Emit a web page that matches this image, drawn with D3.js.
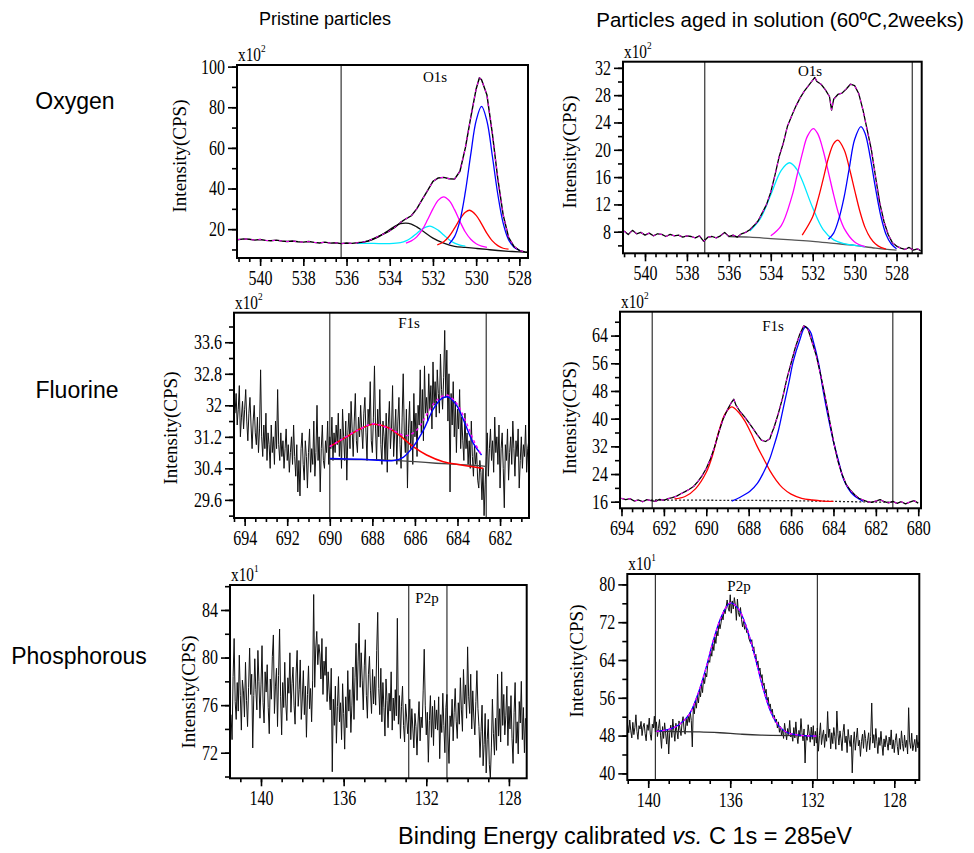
<!DOCTYPE html>
<html>
<head>
<meta charset="utf-8">
<script src="https://cdn.jsdelivr.net/npm/d3@7"></script>
<style>
  body { margin: 0; background: #fff; }
  .tick text { font-family: "Liberation Serif", serif; font-size: 20px; fill: #000; }
  .tick line { stroke: #000; stroke-width: 1.6; }
  .sans { font-family: "Liberation Sans", Arial, sans-serif; fill: #000; }
  .serif { font-family: "Liberation Serif", serif; fill: #000; }
</style>
</head>
<body>
<svg id="chart" width="974" height="853"></svg>
<script>
// ---- O1s, pristine ----
const o1sXTicks = [540, 538, 536, 534, 532, 530, 528];
const o1sPristineYTicks = [20, 40, 60, 80, 100];
const o1sPristineMarkers = [536.25];
const o1sPristineMeasured = [[541.05,14.8],[540.75,15.2],[540.5,15.0],[540.25,14.6],[540,14.9],[539.75,14.5],[539.5,14.3],[539.25,14.6],[539,14.2],[538.75,13.9],[538.5,14.2],[538.25,13.8],[538,13.6],[537.75,13.9],[537.5,13.5],[537.25,13.2],[537,13.6],[536.75,13.1],[536.5,13.3],[536.25,12.9],[536,13.2],[535.75,13.0],[535.5,13.3],[535.25,13.6],[535,14.2],[534.75,15.3],[534.5,16.6],[534.25,17.8],[534,19.2],[533.75,21.0],[533.5,23.3],[533.25,25.1],[533,26.6],[532.75,30],[532.5,34.5],[532.25,39],[532,43.5],[531.75,45.2],[531.5,45.5],[531.25,44.8],[531,44.6],[530.75,48.5],[530.5,60],[530.25,75],[530,89],[529.85,94.5],[529.75,93.5],[529.5,86],[529.25,67],[529,45],[528.75,27],[528.5,16],[528.25,11.5],[528,9.5],[527.75,8.8],[527.6,8.5]];
const o1sPristineBlue = [[531.25,12.7],[531,16.3],[530.75,24.2],[530.5,38.3],[530.25,56.8],[530,73.4],[529.75,80.4],[529.5,73.2],[529.25,56],[529,37.3],[528.75,23],[528.5,14.8],[528.25,11.1],[528,9.7]];
const o1sPristineRed = [[531.8,12.3],[531.5,13.8],[531.25,16.5],[531,20.5],[530.75,24.9],[530.5,28.3],[530.3,29.3],[530,26.8],[529.75,22.6],[529.5,17.9],[529.25,14.2],[529,11.9],[528.75,10.6],[528.5,10.2]];
const o1sPristineMagenta = [[533.25,13.1],[533,14.2],[532.75,16.2],[532.5,19.6],[532.25,24.6],[532,30],[531.75,34.3],[531.5,35.9],[531.25,34.1],[531,29.6],[530.75,23.8],[530.5,18.6],[530.25,15],[530,12.8],[529.75,11.6],[529.5,11]];
const o1sPristineCyan = [[535.5,13.0],[535,13.0],[534.5,12.9],[534,12.9],[533.5,13.4],[533.25,14.2],[533,15.8],[532.75,17.9],[532.5,20.1],[532.15,21.5],[531.75,19.4],[531.5,17.1],[531.25,14.8],[531,13.1],[530.75,12.1],[530.5,11.6]];
const o1sPristineDark = [[535.5,13],[535,14.1],[534.5,16.3],[534,19.8],[533.75,21.5],[533.5,22.7],[533.25,23],[533,22.5],[532.75,21.1],[532.5,19.3],[532,15.6],[531.5,13.1],[531,11.5],[530.5,11],[530,10.5],[529.5,10],[529,9.5],[528.5,9.1],[528,8.8],[527.6,8.6]];

// ---- O1s, aged ----
const o1sAgedYTicks = [8, 12, 16, 20, 24, 28, 32];
const o1sAgedMarkers = [537.15, 527.25];
const o1sAgedMeasured = [[541,8.1],[540.8,7.6],[540.6,8.2],[540.4,7.7],[540.2,7.9],[540,7.5],[539.8,7.8],[539.6,7.4],[539.4,7.7],[539.2,7.6],[539,7.3],[538.8,7.6],[538.6,7.4],[538.4,7.5],[538.2,7.2],[538,7.4],[537.8,7.3],[537.6,7.1],[537.4,7.4],[537.2,6.6],[537,7.2],[536.8,7.3],[536.6,7.1],[536.4,7.4],[536.2,7.9],[536,7.3],[535.8,7.5],[535.6,7.2],[535.4,7.7],[535.2,7.9],[535,8.3],[534.8,8.9],[534.6,9.6],[534.4,10.8],[534.2,12.0],[534,13.8],[533.8,16.3],[533.6,19.0],[533.4,21.0],[533.2,23.5],[533,25.0],[532.8,26.4],[532.6,27.6],[532.4,28.6],[532.2,29.4],[532,30.2],[531.9,30.6],[531.8,30.0],[531.6,29.6],[531.4,28.8],[531.2,27.8],[531.1,25.8],[531,27.4],[530.8,28.1],[530.6,28.3],[530.4,28.9],[530.2,29.6],[530,29.4],[529.8,28.2],[529.6,25.8],[529.4,22.9],[529.2,20.0],[529,16.0],[528.8,12.2],[528.6,9.5],[528.4,7.6],[528.2,6.4],[528,5.9],[527.8,5.6],[527.6,5.4],[527.4,5.7],[527.2,5.3],[527,5.5],[526.85,5.2]];
const o1sAgedCyan = [[535,8.1],[534.5,9.9],[534,13.4],[533.5,17.0],[533.1,18.1],[532.75,17.1],[532.5,15.5],[532,11.5],[531.5,8.3],[531,6.8],[530.5,6.25],[530,6.0],[529.5,5.8]];
const o1sAgedMagenta = [[534,7.4],[533.5,8.9],[533,13.1],[532.75,16.2],[532.5,19.4],[532.25,22],[531.97,23.1],[531.75,22.3],[531.5,19.9],[531.25,16.7],[531,13.4],[530.75,10.5],[530.5,8.5],[530,6.5],[529.5,5.8]];
const o1sAgedRed = [[532.5,7.5],[532,10.2],[531.75,12.7],[531.5,15.7],[531.25,18.8],[531,20.9],[530.8,21.4],[530.5,20],[530.25,17.3],[530,14.1],[529.75,11],[529.5,8.6],[529.25,7.1],[529,6.2],[528.75,5.7],[528.5,5.45]];
const o1sAgedBlue = [[531.25,6.9],[531,7.8],[530.75,9.9],[530.5,13.1],[530.25,17.4],[530,21.5],[529.7,23.4],[529.5,22.4],[529.25,18.8],[529,14.3],[528.75,10.3],[528.5,7.6],[528.25,6.2],[528,5.5]];
const o1sAgedBg = [[536,7.3],[535,7.2],[534,7.0],[533,6.8],[532,6.6],[531,6.3],[530,6.0],[529,5.6],[528,5.3]];

// ---- F1s, pristine (counts every 0.05 eV from 694.45 eV down) ----
const f1sPristineXTicks = [694, 692, 690, 688, 686, 684, 682];
const f1sPristineYTicks = [29.6, 30.4, 31.2, 32, 32.8, 33.6];
const f1sPristineMarkers = [690, 682.65];
const f1sPristineStart = 694.45, f1sPristineStep = 0.05;
const f1sPristineCounts = [
  31.8,32.3,31.5,31.9,32.5,31.2,31.7,32.1,31.4,31.9,32.4,31.6,31.1,31.8,32.2,31.5,30.9,31.6,32.0,31.3,
  31.0,31.7,30.8,31.4,32.9,31.2,30.7,31.5,30.9,31.8,30.6,31.3,31.0,30.4,31.5,30.8,31.2,30.5,31.6,30.9,
  32.4,31.0,30.6,31.3,30.7,31.1,30.4,30.9,31.4,30.6,31.0,30.3,30.8,31.2,30.5,31.5,30.7,30.2,31.0,29.8,
  30.6,29.7,30.9,31.3,30.5,30.1,31.1,30.7,29.9,30.8,31.4,30.3,30.9,30.5,31.6,30.2,30.8,32.0,30.6,31.2,
  29.8,30.9,31.5,30.6,30.4,31.1,30.8,31.6,30.5,31.2,30.9,31.7,30.6,31.3,30.8,31.5,31.0,31.8,30.7,31.4,
  30.4,31.9,31.2,30.6,31.6,30.1,31.3,31.8,30.9,32.1,31.4,30.7,31.6,32.3,31.1,30.8,31.7,31.2,32.0,31.4,
  30.9,31.8,32.2,31.3,30.6,31.9,31.5,32.6,31.1,30.8,31.7,33.0,31.4,30.6,31.9,31.2,32.4,31.0,30.5,31.6,
  31.2,30.6,31.8,30.3,31.5,32.1,30.9,31.4,32.5,30.7,31.3,31.9,30.5,31.6,32.2,31.0,30.4,31.7,32.8,31.3,
  30.8,31.9,29.9,31.4,32.1,30.9,31.6,30.5,32.3,31.2,31.8,30.7,32.0,31.5,32.9,31.3,32.4,31.1,33.0,31.8,
  32.2,31.6,32.8,31.9,32.5,31.4,33.1,32.0,32.6,31.7,32.9,32.3,31.8,33.3,32.4,31.9,32.7,33.9,32.2,33.4,
  31.6,32.8,29.8,32.3,31.5,32.6,31.2,32.1,30.8,31.9,31.4,32.4,30.9,31.7,31.1,30.6,31.8,30.9,31.3,30.5,
  31.1,30.4,31.6,30.7,30.2,31.0,30.5,30.8,30.1,29.9,30.6,30.3,29.6,30.4,29.2,30.0,30.7,31.3,30.2,30.9,
  31.4,30.6,31.1,30.3,31.7,30.8,31.2,30.5,31.5,29.9,30.9,31.3,30.4,29.4,31.0,30.6,31.4,30.1,30.8,31.2,
  30.5,31.6,30.9,30.2,31.1,30.7,31.4,29.9,30.6,31.2,30.4,31.0,30.7,31.5,30.3,30.9,31.1
];
const f1sPristineRed = [[690,30.95],[689.21,31.2],[688.58,31.4],[687.95,31.52],[687.33,31.45],[686.7,31.23],[686.08,30.95],[685.45,30.74],[684.67,30.57],[683.88,30.49],[682.79,30.4]];
const f1sPristineBlue = [[690,30.65],[688.5,30.63],[687,30.6],[686.55,30.68],[686.08,30.95],[685.6,31.37],[685.14,31.9],[684.75,32.17],[684.43,32.21],[684.04,32.0],[683.65,31.54],[683.26,31.04],[682.87,30.74]];
const f1sPristineFit = [[690,30.95],[688.58,31.4],[687.95,31.53],[687.17,31.4],[686.4,31.23],[685.92,31.37],[685.45,31.76],[684.98,32.13],[684.51,32.26],[684.04,32.05],[683.57,31.54],[683.18,31.04],[682.87,30.74]];
const f1sPristineBg = [[690,30.63],[688,30.62],[687,30.6],[686,30.57],[685,30.53],[684,30.5],[683,30.47],[682.7,30.45]];

// ---- F1s, aged ----
const f1sAgedXTicks = [694, 692, 690, 688, 686, 684, 682, 680];
const f1sAgedYTicks = [16, 24, 32, 40, 48, 56, 64];
const f1sAgedMarkers = [692.55, 681.2];
const f1sAgedMeasured = [[694,17.0],[693.8,16.6],[693.6,16.9],[693.4,16.2],[693.2,16.5],[693,16.0],[692.8,16.6],[692.6,16.3],[692.4,16.1],[692.2,16.7],[692,16.4],[691.8,16.9],[691.6,17.2],[691.4,17.6],[691.2,18.3],[691,18.9],[690.8,19.6],[690.6,20.4],[690.4,21.8],[690.2,23.5],[690,25.6],[689.8,28.4],[689.6,32.0],[689.4,36.2],[689.2,40.0],[689,42.6],[688.8,44.8],[688.7,45.6],[688.6,43.9],[688.4,42.0],[688.2,40.6],[688,38.9],[687.8,37.2],[687.6,35.4],[687.4,33.8],[687.2,33.4],[687,34.2],[686.9,36.0],[686.8,37.5],[686.6,41.5],[686.4,46.0],[686.2,51.5],[686,56.0],[685.8,60.5],[685.6,64.2],[685.4,66.8],[685.3,66.5],[685.2,65.8],[685,62.0],[684.8,58.0],[684.6,52.5],[684.4,46.5],[684.2,40.0],[684,33.5],[683.8,28.0],[683.6,24.0],[683.4,21.0],[683.2,19.3],[683,18.0],[682.8,17.0],[682.6,16.5],[682.4,16.0],[682.2,15.8],[682,16.2],[681.8,16.6],[681.6,16.0],[681.4,15.7],[681.2,16.1],[681,15.5],[680.8,16.0],[680.6,15.4],[680.4,15.9],[680.2,16.3],[680,15.6]];
const f1sAgedRed = [[691.5,16.8],[691,17.5],[690.5,19.8],[690,24.5],[689.7,29.5],[689.4,36.5],[689.1,41.5],[688.8,43.4],[688.5,42],[688.2,39.5],[687.9,36],[687.6,32],[687.3,28.5],[687,25],[686.7,22.2],[686.4,20],[686,18.2],[685.5,17],[685,16.5],[684.5,16.2],[684,16.1]];
const f1sAgedBlue = [[688.8,16.2],[688.4,17.3],[687.94,19],[687.6,21.2],[687.31,24.3],[687,28.5],[686.84,31.5],[686.6,36.5],[686.37,43],[686.1,50.5],[685.9,56.5],[685.6,62.5],[685.34,66.4],[685.1,65.2],[684.95,62.3],[684.7,56],[684.48,47.9],[684.25,40.5],[684,33.4],[683.75,27.5],[683.54,22.8],[683.3,19.8],[683.07,18],[682.8,16.8],[682.6,16.1]];
const f1sAgedBg = [[692.6,16.5],[689,16.4],[686,16.3],[684,16.1],[682,15.9],[681.2,15.9]];

// ---- P2p, pristine (counts every 0.05 eV from 141.45 eV down) ----
const p2pXTicks = [140, 136, 132, 128];
const p2pPristineYTicks = [72, 76, 80, 84];
const p2pPristineMarkers = [132.85, 131.0];
const p2pPristineStart = 141.45, p2pPristineStep = 0.05;
const p2pPristineCounts = [
  75.2,73.1,78.4,81.6,76.3,74.8,77.9,75.5,80.2,76.8,73.9,78.1,77.2,75.0,79.6,76.4,74.2,77.5,80.8,76.9,
  78.6,72.4,76.8,79.9,77.3,75.6,80.6,78.0,74.9,77.7,81.0,76.2,74.5,78.8,77.1,79.4,75.8,73.6,78.2,76.5,
  80.1,81.9,75.3,77.6,79.1,74.2,78.5,82.4,76.7,73.5,77.9,75.8,79.6,76.1,74.7,78.3,77.0,80.4,75.4,77.8,
  79.2,76.0,74.4,78.7,80.6,75.9,77.3,79.8,74.8,76.6,78.9,75.2,77.6,73.3,76.9,79.3,75.7,77.4,74.6,78.1,
  85.3,77.5,80.8,82.2,79.4,81.1,80.3,78.2,81.6,76.9,79.7,78.5,80.9,76.3,78.8,77.1,75.6,79.1,70.4,76.5,
  74.3,77.6,72.8,75.9,78.4,74.6,76.2,73.1,77.8,75.3,72.3,76.7,74.1,78.9,75.5,77.3,73.7,76.0,79.2,74.8,
  78.3,81.2,76.4,79.7,82.9,77.5,80.4,78.1,75.6,79.3,81.5,76.8,74.9,78.6,80.1,77.2,75.3,79.0,76.1,78.4,
  76.0,80.6,83.8,77.4,75.2,79.1,74.6,77.9,75.8,73.4,78.2,76.4,74.1,77.0,75.5,78.8,73.9,76.6,74.7,77.3,
  75.1,83.3,74.4,76.8,73.2,75.9,77.6,74.3,72.9,76.1,75.0,73.6,74.8,76.5,73.1,75.7,74.0,72.4,75.3,74.2,
  71.8,74.5,76.3,73.0,75.0,74.1,77.2,80.7,76.0,73.5,75.4,71.2,74.7,76.8,73.3,75.9,72.6,76.4,74.0,75.6,
  73.9,76.7,71.5,75.2,73.7,77.0,74.3,72.0,75.8,76.9,73.4,71.1,75.1,74.2,76.5,73.0,75.4,77.4,74.6,73.2,
  76.2,74.4,78.3,75.6,73.8,79.0,76.1,77.7,74.9,80.9,76.7,75.3,78.6,74.0,77.2,75.0,73.5,76.3,78.9,75.7,
  74.2,71.6,73.8,76.0,70.9,72.7,75.3,70.3,73.1,74.8,71.0,69.9,72.4,76.5,73.6,71.8,74.9,72.2,78.6,73.4,
  75.7,72.9,78.8,74.3,76.9,73.5,75.1,77.6,72.6,75.9,74.0,76.8,73.2,71.1,75.4,77.9,72.8,74.6,71.9,76.3,
  74.5,78.0,73.1,75.8,72.0,74.9
];

// ---- P2p, aged (counts every 0.05 eV from 141.0 eV down) ----
const p2pAgedYTicks = [40, 48, 56, 64, 72, 80];
const p2pAgedMarkers = [139.65, 131.75];
const p2pAgedStart = 141.0, p2pAgedStep = 0.05;
const p2pAgedCounts = [
  50.2,48.6,51.3,49.0,47.5,50.8,48.2,49.7,52.4,48.9,47.2,50.1,49.4,51.0,48.0,49.8,50.6,48.4,46.9,50.3,
  49.1,51.7,48.3,47.0,50.4,49.6,52.1,48.8,50.9,47.8,49.5,51.4,48.1,45.3,49.9,47.4,50.7,48.5,46.2,49.3,
  44.1,48.7,50.2,47.6,51.5,49.0,46.8,50.6,48.9,47.3,51.1,49.4,48.0,50.8,52.0,49.2,48.3,51.6,50.1,52.3,
  50.8,53.0,51.2,45.6,54.1,52.6,55.3,53.8,56.4,54.9,57.6,56.2,58.8,57.1,60.3,59.0,61.2,60.4,62.9,64.0,
  63.5,66.1,64.8,67.4,66.0,68.9,67.5,70.2,69.1,72.0,70.6,71.8,73.4,72.5,74.6,73.8,75.2,76.7,75.0,74.3,
  77.8,73.9,76.5,74.8,77.2,75.6,72.4,76.9,74.0,73.2,75.1,72.6,71.0,72.3,70.5,71.6,69.8,70.4,68.7,68.0,
  67.5,68.3,65.9,66.8,64.6,65.2,63.0,63.8,61.7,62.3,60.1,60.9,58.6,59.1,57.0,57.8,55.4,56.1,54.0,54.7,
  52.9,53.6,51.7,52.3,50.8,51.5,49.6,50.9,48.7,49.9,48.1,49.3,47.4,50.6,48.8,47.1,49.5,48.2,51.2,47.7,
  48.4,46.8,49.7,47.5,50.9,48.0,46.3,49.1,47.8,51.6,48.6,46.9,49.4,42.2,48.1,47.0,50.3,48.5,46.6,49.8,
  47.2,50.1,45.8,48.9,46.4,49.6,44.7,48.0,50.7,46.1,47.9,49.2,45.5,48.3,46.8,53.1,47.6,49.4,45.2,48.6,
  46.3,49.7,47.8,45.1,53.2,48.4,46.0,49.0,47.3,44.8,48.7,50.4,46.5,47.9,44.4,49.3,47.1,45.7,48.1,40.1,
  46.2,48.8,44.9,47.5,49.6,45.8,47.0,43.6,46.7,48.3,45.3,49.1,47.4,44.6,46.9,48.6,45.0,47.8,54.9,46.4,
  48.2,45.4,49.5,46.8,44.2,47.6,45.9,48.9,46.1,43.8,47.3,45.6,48.0,46.5,44.9,47.7,46.0,49.2,45.2,47.1,
  44.4,46.9,48.4,45.7,43.9,47.4,45.1,49.0,46.3,44.7,48.1,45.5,47.0,44.1,53.9,46.6,45.3,48.5,44.8,46.0,
  47.2,44.6,48.1,45.4,46.7
];
const p2pAgedFit = [[139.6,48.9],[139,49.3],[138.5,50.3],[138,52.5],[137.6,56.5],[137.2,62],[136.8,68.5],[136.4,73.5],[136,76.1],[135.6,74.8],[135.2,70.8],[134.8,64.8],[134.4,58],[134,52.8],[133.6,49.9],[133.2,48.6],[132.8,48.2],[132.4,48.0],[131.8,47.9]];
const p2pAgedBg = [[139.6,48.9],[137.5,48.8],[136.5,48.6],[135.5,48.3],[134.5,48.1],[131.8,48.0]];

// ---------------------------------------------------------------
const evenly = (start, step, vals) => vals.map((v, i) => [start - i * step, v]);

const MAGENTA = "#ff00ff", BLUE = "#0000ff", RED = "#ff0000", CYAN = "#00e8ff";

const panels = [
  { box: [237, 65, 528, 258], x: [541.07, 527.6], y: [5.8, 100.8],
    xTicks: o1sXTicks, xMinor: 0.5, yTicks: o1sPristineYTicks, yMinor: 10, power: "2",
    peak: "O1s", peakAt: [435, 82], markers: o1sPristineMarkers, yTitle: [186, 156],
    series: [
      { d: o1sPristineDark, c: "#111" },
      { d: o1sPristineCyan, c: CYAN },
      { d: o1sPristineMagenta, c: MAGENTA },
      { d: o1sPristineRed, c: RED },
      { d: o1sPristineBlue, c: BLUE },
      { d: o1sPristineMeasured, c: "#000", w: 1.4, raw: true },
      { d: o1sPristineMeasured, c: MAGENTA, dash: "3,4", w: 1, raw: true }
    ] },
  { box: [623, 61.7, 921.7, 253.3], x: [541.05, 526.8], y: [4.84, 32.9],
    xTicks: o1sXTicks, xMinor: 0.5, yTicks: o1sAgedYTicks, yMinor: 2, power: "2",
    peak: "O1s", peakAt: [810, 76], markers: o1sAgedMarkers, yTitle: [576, 152],
    series: [
      { d: o1sAgedBg, c: "#555" },
      { d: o1sAgedCyan, c: CYAN },
      { d: o1sAgedMagenta, c: MAGENTA },
      { d: o1sAgedRed, c: RED },
      { d: o1sAgedBlue, c: BLUE },
      { d: o1sAgedMeasured, c: "#000", w: 1.3, raw: true },
      { d: o1sAgedMeasured, c: MAGENTA, dash: "3,4", w: 1, raw: true }
    ] },
  { box: [234, 312.7, 529, 518], x: [694.5, 680.64], y: [29.14, 34.35],
    xTicks: f1sPristineXTicks, xMinor: 0.5, yTicks: f1sPristineYTicks, yMinor: 0.4, power: "2",
    peak: "F1s", peakAt: [409, 328], markers: f1sPristineMarkers, yTitle: [177, 428],
    series: [
      { d: evenly(f1sPristineStart, f1sPristineStep, f1sPristineCounts), c: "#111", w: 1, raw: true },
      { d: f1sPristineBg, c: "#444" },
      { d: f1sPristineRed, c: RED, w: 1.6 },
      { d: f1sPristineBlue, c: BLUE, w: 1.4 },
      { d: f1sPristineFit, c: MAGENTA, dash: "3,3", w: 1.4 }
    ] },
  { box: [620, 311.7, 921, 508.3], x: [694.07, 679.87], y: [14.1, 70.9],
    xTicks: f1sAgedXTicks, xMinor: 0.5, yTicks: f1sAgedYTicks, yMinor: 4, power: "2",
    peak: "F1s", peakAt: [773, 331], markers: f1sAgedMarkers, yTitle: [576, 418],
    series: [
      { d: f1sAgedBg, c: "#222", dash: "2,2" },
      { d: f1sAgedRed, c: RED },
      { d: f1sAgedBlue, c: BLUE },
      { d: f1sAgedMeasured, c: "#000", w: 1.3, raw: true },
      { d: f1sAgedMeasured, c: MAGENTA, dash: "3,4", w: 1, raw: true }
    ] },
  { box: [230, 585, 526.7, 778.3], x: [141.5, 127.14], y: [69.85, 86.1],
    xTicks: p2pXTicks, xMinor: 1, yTicks: p2pPristineYTicks, yMinor: 2, power: "1",
    peak: "P2p", peakAt: [427, 603], markers: p2pPristineMarkers, yTitle: [195, 692],
    series: [
      { d: evenly(p2pPristineStart, p2pPristineStep, p2pPristineCounts), c: "#111", w: 1, raw: true }
    ] },
  { box: [627.3, 574, 919.3, 780], x: [141.02, 126.78], y: [38.6, 82.2],
    xTicks: p2pXTicks, xMinor: 1, yTicks: p2pAgedYTicks, yMinor: 4, power: "1",
    peak: "P2p", peakAt: [739, 591], markers: p2pAgedMarkers, yTitle: [583, 661],
    series: [
      { d: evenly(p2pAgedStart, p2pAgedStep, p2pAgedCounts), c: "#111", w: 1, raw: true },
      { d: p2pAgedBg, c: "#333" },
      { d: p2pAgedFit, c: BLUE, w: 1.3 },
      { d: p2pAgedFit, c: MAGENTA, dash: "3,3", w: 1.3 }
    ] }
];

const svg = d3.select("#chart");

function minorTicks(domain, step) {
  const lo = d3.min(domain), hi = d3.max(domain);
  return d3.range(Math.ceil(lo / step - 1e-6), Math.floor(hi / step + 1e-6) + 1)
    .map(k => +(k * step).toFixed(4));
}

function squeeze(sel, dx) {
  // tick labels in the figure are drawn narrow
  sel.selectAll(".tick text")
    .attr("transform", "scale(0.8,1)")
    .attr("x", dx);
}

panels.forEach((p, i) => {
  const [x0, y0, x1, y1] = p.box;
  const x = d3.scaleLinear().domain(p.x).range([x0, x1]);
  const y = d3.scaleLinear().domain(p.y).range([y1, y0]);

  const g = svg.append("g");

  g.append("clipPath").attr("id", "clip-" + i)
    .append("rect").attr("x", x0).attr("y", y0).attr("width", x1 - x0).attr("height", y1 - y0);

  // x axis
  g.append("g").attr("transform", `translate(0,${y1})`)
    .call(d3.axisBottom(x).tickValues(minorTicks(p.x, p.xMinor)).tickSize(4).tickFormat(""))
    .call(a => a.select(".domain").remove());
  g.append("g").attr("transform", `translate(0,${y1})`)
    .call(d3.axisBottom(x).tickValues(p.xTicks).tickSize(8).tickPadding(5).tickFormat(d3.format("")))
    .call(a => a.select(".domain").remove())
    .call(a => squeeze(a, 0));

  // y axis
  g.append("g").attr("transform", `translate(${x0},0)`)
    .call(d3.axisLeft(y).tickValues(minorTicks(p.y, p.yMinor)).tickSize(5).tickFormat(""))
    .call(a => a.select(".domain").remove());
  g.append("g").attr("transform", `translate(${x0},0)`)
    .call(d3.axisLeft(y).tickValues(p.yTicks).tickSize(9).tickPadding(3).tickFormat(d3.format("")))
    .call(a => a.select(".domain").remove())
    .call(a => squeeze(a, -15));

  const plot = g.append("g").attr("clip-path", `url(#clip-${i})`);

  plot.selectAll(".marker")
    .data(p.markers)
    .enter().append("line")
    .attr("class", "marker")
    .attr("x1", d => x(d)).attr("x2", d => x(d))
    .attr("y1", y0).attr("y2", y1)
    .attr("stroke", "#333").attr("stroke-width", 1.2);

  p.series.forEach(s => {
    const line = d3.line()
      .x(d => x(d[0]))
      .y(d => y(d[1]))
      .curve(s.raw ? d3.curveLinear : d3.curveCatmullRom);
    plot.append("path")
      .attr("d", line(s.d))
      .attr("fill", "none")
      .attr("stroke", s.c)
      .attr("stroke-width", s.w || 1.3)
      .attr("stroke-dasharray", s.dash || null)
      .attr("stroke-linejoin", "round");
  });

  g.append("rect")
    .attr("x", x0).attr("y", y0)
    .attr("width", x1 - x0).attr("height", y1 - y0)
    .attr("fill", "none").attr("stroke", "#000").attr("stroke-width", 2);

  // x10^n multiplier
  const mult = g.append("text").attr("class", "serif")
    .attr("transform", `translate(${x0 + 1},${y0 - 4}) scale(0.85,1)`)
    .attr("font-size", 18);
  mult.append("tspan").text("x10");
  mult.append("tspan").attr("dy", -9).attr("font-size", 11).text(p.power);

  g.append("text").attr("class", "serif")
    .attr("x", p.peakAt[0]).attr("y", p.peakAt[1])
    .attr("text-anchor", "middle").attr("font-size", 15)
    .text(p.peak);

  g.append("text").attr("class", "serif")
    .attr("transform", `translate(${p.yTitle[0]},${p.yTitle[1]}) rotate(-90)`)
    .attr("text-anchor", "middle").attr("font-size", 19)
    .text("Intensity(CPS)");
});

// column titles, row labels, caption
svg.append("text").attr("class", "sans")
  .attr("x", 325).attr("y", 25).attr("text-anchor", "middle").attr("font-size", 18)
  .text("Pristine particles");
svg.append("text").attr("class", "sans")
  .attr("x", 780).attr("y", 27).attr("text-anchor", "middle").attr("font-size", 20.5)
  .text("Particles aged in solution (60ºC,2weeks)");

const rowLabels = [["Oxygen", 75, 109], ["Fluorine", 77, 398], ["Phosphorous", 79, 664]];
svg.selectAll(".row-label")
  .data(rowLabels)
  .enter().append("text")
  .attr("class", "sans row-label")
  .attr("x", d => d[1]).attr("y", d => d[2])
  .attr("text-anchor", "middle").attr("font-size", 23)
  .text(d => d[0]);

const caption = svg.append("text").attr("class", "sans")
  .attr("x", 625).attr("y", 844).attr("text-anchor", "middle").attr("font-size", 23.5);
caption.append("tspan").text("Binding Energy calibrated ");
caption.append("tspan").attr("font-style", "italic").text("vs.");
caption.append("tspan").text(" C 1s = 285eV");
</script>
</body>
</html>
